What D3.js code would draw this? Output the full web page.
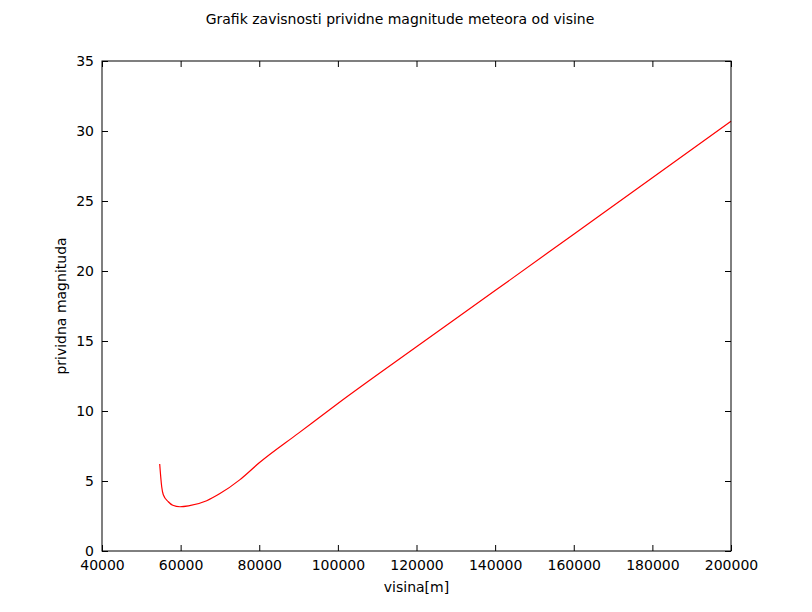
<!DOCTYPE html>
<html>
<head>
<meta charset="utf-8">
<script src="https://d3js.org/d3.v7.min.js"></script>
<style>
  body { margin: 0; background: #fff; font-family: "DejaVu Sans", sans-serif; }
  text { font-family: "DejaVu Sans", sans-serif; }
</style>
</head>
<body>
<script>
// values
var visina = [54677, 55186, 55593, 56865, 58000, 59841, 62000, 66633, 70000, 75103, 80000, 90000, 100000, 120000, 140000, 160000, 180000, 200000];
var magnituda = [6.21, 4.59, 4.02, 3.52, 3.27, 3.16, 3.22, 3.59, 4.1, 5.1, 6.3, 8.42, 10.54, 14.59, 18.6, 22.63, 26.66, 30.7];
var xTicks = [40000, 60000, 80000, 100000, 120000, 140000, 160000, 180000, 200000];
var yTicks = [0, 5, 10, 15, 20, 25, 30, 35];

var W = 812, H = 612;
var m = {left: 102, top: 61, right: 81, bottom: 61};
var w = W - m.left - m.right, h = H - m.top - m.bottom;

var svg = d3.select("body").append("svg").attr("width", W).attr("height", H);

var x = d3.scaleLinear().domain([40000, 200000]).range([m.left, m.left + w]);
var y = d3.scaleLinear().domain([0, 35]).range([m.top + h, m.top]);

var line = d3.line().curve(d3.curveMonotoneX)
  .x(function(d, i) { return x(visina[i]); })
  .y(function(d, i) { return y(magnituda[i]); });

svg.append("path").datum(magnituda)
  .attr("fill", "none").attr("stroke", "red").attr("stroke-width", 1.2)
  .attr("d", line);

function style(g) {
  g.select(".domain").remove();
  g.selectAll("line").attr("stroke", "#000");
  g.selectAll("text").attr("font-size", 14).attr("fill", "#000");
}
svg.append("g").attr("transform", "translate(0," + (m.top + h) + ")")
  .call(d3.axisBottom(x).tickValues(xTicks).tickSizeInner(-6).tickSizeOuter(0).tickPadding(9).tickFormat(d3.format("d"))).call(style);
svg.append("g").attr("transform", "translate(0," + m.top + ")")
  .call(d3.axisTop(x).tickValues(xTicks).tickSizeInner(-6).tickSizeOuter(0).tickFormat("")).call(style);
svg.append("g").attr("transform", "translate(" + m.left + ",0)")
  .call(d3.axisLeft(y).tickValues(yTicks).tickSizeInner(-6).tickSizeOuter(0).tickPadding(8)).call(style);
svg.append("g").attr("transform", "translate(" + (m.left + w) + ",0)")
  .call(d3.axisRight(y).tickValues(yTicks).tickSizeInner(-6).tickSizeOuter(0).tickFormat("")).call(style);

svg.append("rect").attr("x", m.left).attr("y", m.top).attr("width", w).attr("height", h)
  .attr("fill", "none").attr("stroke", "#000").attr("stroke-width", 1);

svg.append("text").attr("x", W / 2 - 6).attr("y", 24).attr("text-anchor", "middle")
  .attr("font-size", 14).text("Grafik zavisnosti prividne magnitude meteora od visine");
svg.append("text").attr("x", m.left + w / 2).attr("y", 592).attr("text-anchor", "middle")
  .attr("font-size", 14).text("visina[m]");
svg.append("text").attr("transform", "translate(66," + (m.top + h / 2) + ") rotate(-90)")
  .attr("text-anchor", "middle").attr("font-size", 14).text("prividna magnituda");
</script>
</body>
</html>
